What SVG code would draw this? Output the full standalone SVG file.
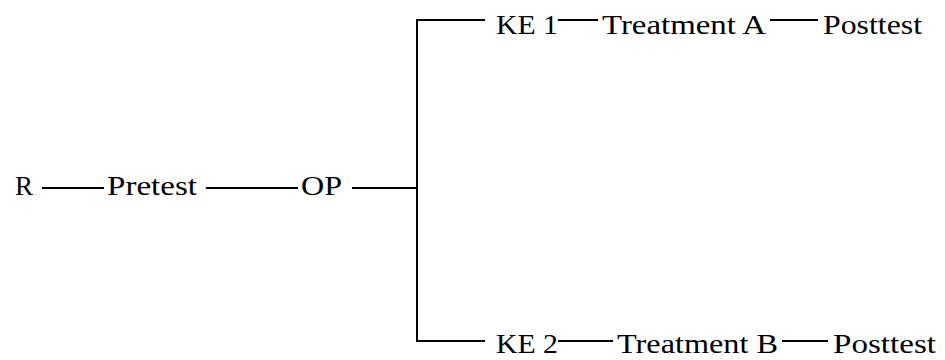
<svg xmlns="http://www.w3.org/2000/svg" width="945" height="360" viewBox="0 0 945 360">
  <style>
    .t { font-family: 'Liberation Serif', 'DejaVu Serif', serif; font-size: 27px; fill: #000; }
    .ln { stroke: #000; stroke-width: 2; fill: none; }
  </style>
  <rect width="945" height="360" fill="#fff"/>
  <!-- plain connecting strokes, no arrowheads -->
  <g id="connectors">
    <line class="ln" x1="42" y1="188" x2="104" y2="188"/>
    <line class="ln" x1="206" y1="188" x2="298" y2="188"/>
    <line class="ln" x1="352" y1="188" x2="417" y2="188"/>
    <polyline class="ln" points="485,20 417,20 417,341 485,341"/>
    <line class="ln" x1="558" y1="20" x2="598" y2="20"/>
    <line class="ln" x1="770" y1="20" x2="818" y2="20"/>
    <line class="ln" x1="558" y1="341" x2="613" y2="341"/>
    <line class="ln" x1="782" y1="341" x2="828" y2="341"/>
  </g>
  <g id="n-r"><text class="t" x="15" y="195" textLength="18" lengthAdjust="spacingAndGlyphs">R</text></g>
  <g id="n-pretest"><text class="t" x="107" y="195" textLength="90" lengthAdjust="spacingAndGlyphs">Pretest</text></g>
  <g id="n-op"><text class="t" x="301" y="195" textLength="41" lengthAdjust="spacingAndGlyphs">OP</text></g>
  <g id="n-ke1"><text class="t" x="496" y="34" textLength="62" lengthAdjust="spacingAndGlyphs">KE 1</text></g>
  <g id="n-treatment-a"><text class="t" x="602" y="34" textLength="164" lengthAdjust="spacingAndGlyphs">Treatment A</text></g>
  <g id="n-posttest-a"><text class="t" x="823" y="34" textLength="99" lengthAdjust="spacingAndGlyphs">Posttest</text></g>
  <g id="n-ke2"><text class="t" x="496" y="353" textLength="62" lengthAdjust="spacingAndGlyphs">KE 2</text></g>
  <g id="n-treatment-b"><text class="t" x="617" y="353" textLength="161" lengthAdjust="spacingAndGlyphs">Treatment B</text></g>
  <g id="n-posttest-b"><text class="t" x="833" y="353" textLength="103" lengthAdjust="spacingAndGlyphs">Posttest</text></g>
</svg>
